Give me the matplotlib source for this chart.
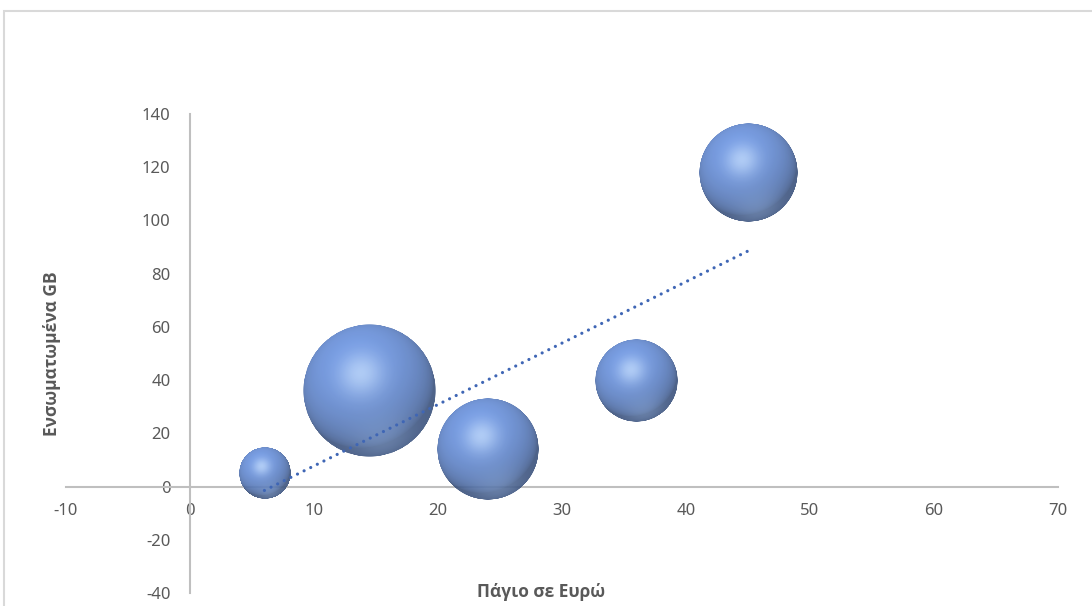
import numpy as np
import matplotlib
matplotlib.use("Agg")
import matplotlib.pyplot as plt
from matplotlib.offsetbox import OffsetImage, AnnotationBbox
from matplotlib.patches import Rectangle

# data
fees = [6, 14.5, 24, 36, 45]          # Πάγιο σε Ευρώ
gb = [5, 36, 14, 40, 118]             # Ενσωματωμένα GB
bubble_size = [6, 40, 23.5, 15.5, 22]

x_ticks = list(range(-10, 71, 10))
y_ticks = list(range(-40, 141, 20))

DPI = 100
GREY = "#595959"

plt.rcParams['font.family'] = ['Noto Sans', 'DejaVu Sans']
plt.rcParams['axes.unicode_minus'] = False


def sphere_image(n=300):
    # shaded ball, light from the upper left like the excel 3d bubbles
    yy, xx = np.mgrid[-1:1:n * 1j, -1:1:n * 1j]
    nx, ny = xx, -yy
    r = np.sqrt(nx ** 2 + ny ** 2)
    nz = np.sqrt(np.clip(1 - r ** 2, 0, 1))
    light = np.array([-0.25, 0.5, 0.83])
    light /= np.linalg.norm(light)
    diff = np.clip(nx * light[0] + ny * light[1] + nz * light[2], 0, 1)
    half = light + np.array([0, 0, 1.0])
    half /= np.linalg.norm(half)
    spec = np.clip(nx * half[0] + ny * half[1] + nz * half[2], 0, 1) ** 18
    low = np.array([0.2, -0.75, 0.63])
    low /= np.linalg.norm(low)
    bounce = np.clip(nx * low[0] + ny * low[1] + nz * low[2], 0, 1) ** 8
    base = np.array([0.41, 0.57, 0.87])
    shade = 0.56 + 0.46 * diff ** 0.7
    rgb = base * shade[..., None]
    rgb = rgb + (np.array([0.58, 0.71, 0.9]) - rgb) * (0.3 * bounce)[..., None]
    rgb = rgb + (np.array([0.78, 0.88, 1.0]) - rgb) * (0.65 * spec)[..., None]
    alpha = np.clip((1 - r) * n / 2, 0, 1) * 0.9
    return np.dstack([np.clip(rgb, 0, 1), alpha])


fig = plt.figure(figsize=(10.92, 6.06), dpi=DPI)
ax = fig.add_axes([66 / 1092, 1 - 593 / 606, 992 / 1092, 479 / 606])
ax.patch.set_visible(False)

ax.set_xlim(-10, 70)
ax.set_ylim(-40, 140)
ax.set_xticks(x_ticks)
ax.set_yticks(y_ticks)

for side in ['top', 'right']:
    ax.spines[side].set_visible(False)
for side in ['left', 'bottom']:
    ax.spines[side].set_position(('data', 0))
    ax.spines[side].set_color('#bfbfbf')
    ax.spines[side].set_linewidth(1.5)
    ax.spines[side].set_zorder(2)

ax.tick_params(length=0, labelsize=12, labelcolor=GREY)
ax.tick_params(axis='x', pad=12)
ax.tick_params(axis='y', pad=14)

# bubbles: radius grows with sqrt of size, like excel
img = sphere_image()
k = 66.5 / np.sqrt(max(bubble_size))
for x, y, s in zip(fees, gb, bubble_size):
    diam = 2 * k * np.sqrt(s)
    oi = OffsetImage(img, zoom=diam * 72 / (img.shape[0] * DPI), interpolation='antialiased')
    ab = AnnotationBbox(oi, (x, y), xycoords='data', frameon=False, pad=0,
                        box_alignment=(0.5, 0.5), zorder=3)
    ax.add_artist(ab)

# linear trendline over the data range
coef = np.polyfit(fees, gb, 1)
xs = np.array([min(fees), max(fees)])
ax.plot(xs, np.polyval(coef, xs), color="#3f66b5", lw=2.3, linestyle=(0, (0.01, 2.3)),
        dash_capstyle='round', zorder=4)

title_font = ['Open Sans', 'DejaVu Sans']
fig.text(541 / 1092, 1 - 592 / 606, "Πάγιο σε Ευρώ", ha='center', va='center',
         fontsize=12.5, fontweight='bold', color=GREY, family=title_font)
fig.text(52 / 1092, 1 - 354 / 606, "Ενσωματωμένα GB", ha='center', va='center',
         rotation=90, fontsize=12.5, fontweight='bold', color=GREY, family=title_font)

# chart area border
fig.add_artist(Rectangle((4 / 1092, -0.1), 1.2, 1 - 11 / 606 + 0.1, transform=fig.transFigure,
                         fill=False, edgecolor='#d9d9d9', lw=1.5))

fig.savefig("out.png", dpi=DPI)
